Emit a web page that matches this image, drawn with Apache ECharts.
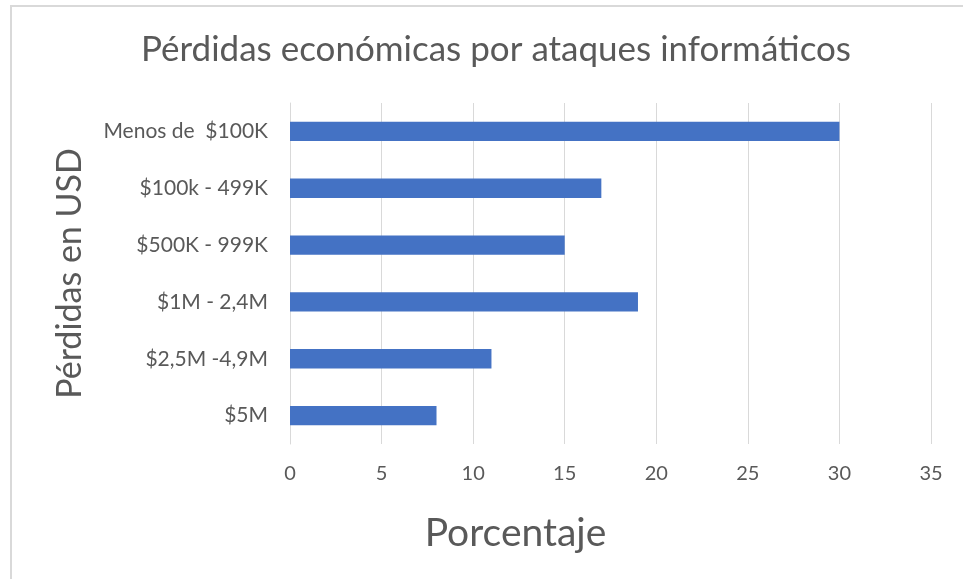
<!DOCTYPE html>
<html>
<head>
<meta charset="utf-8">
<script src="https://cdn.jsdelivr.net/npm/echarts@6/dist/echarts.min.js"></script>
<style>
  html, body { margin: 0; padding: 0; background: #fff; }
  #chart { width: 963px; height: 579px; }
</style>
</head>
<body>
<div id="chart"></div>
<script>
// rangos de pérdidas (de arriba a abajo)
const categorias = ["Menos de  $100K", "$100k - 499K", "$500K - 999K", "$1M - 2,4M", "$2,5M -4,9M", "$5M"]
const porcentajes = [30, 17, 15, 19, 11, 8]

const chart = echarts.init(document.getElementById("chart"))

const option = {
  backgroundColor: "#fff",
  animation: false,
  textStyle: { fontFamily: "Lato" },
  title: {
    text: "Pérdidas económicas por ataques informáticos",
    left: 491,
    textAlign: "center",
    top: 27,
    textStyle: { fontSize: 35, fontWeight: "normal", color: "#595959", fontFamily: "Lato" }
  },
  graphic: [
    {
      type: "rect",
      shape: { x: 11, y: 6, width: 1000, height: 1000 },
      style: { fill: "none", stroke: "#d9d9d9", lineWidth: 2 },
      silent: true
    }
  ],
  grid: { left: 290, right: 32, top: 103, bottom: 135 },
  xAxis: {
    type: "value",
    min: 0,
    max: 35,
    interval: 5,
    name: "Porcentaje",
    nameLocation: "middle",
    nameGap: 70,
    nameTextStyle: { fontSize: 39, color: "#595959", padding: [0, 190, 0, 0] },
    axisLine: { show: false },
    axisTick: { show: false },
    axisLabel: { margin: 20, fontSize: 20, color: "#595959" },
    splitLine: { lineStyle: { color: "#d9d9d9", width: 1 } }
  },
  yAxis: {
    type: "category",
    inverse: true,
    data: categorias,
    name: "Pérdidas en USD",
    nameLocation: "middle",
    nameGap: 203,
    nameTextStyle: { fontSize: 34, color: "#595959" },
    axisLine: { show: true, lineStyle: { color: "#d9d9d9", width: 1 } },
    axisTick: { show: false },
    axisLabel: { margin: 22, fontSize: 21, color: "#595959" }
  },
  series: [
    {
      type: "bar",
      data: porcentajes,
      barWidth: "34%",
      itemStyle: { color: "#4472C4" }
    }
  ]
}

chart.setOption(option)
</script>
</body>
</html>
